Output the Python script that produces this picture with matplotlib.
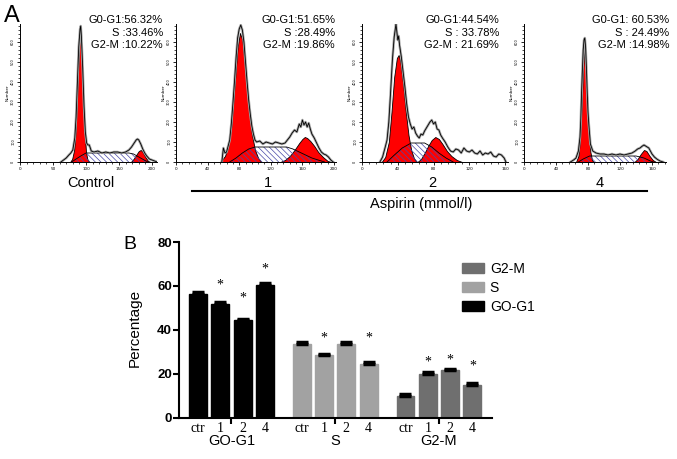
import matplotlib
matplotlib.use("Agg")
import matplotlib.pyplot as plt
import numpy as np
from matplotlib.ticker import MultipleLocator

# ---------------- Panel A data (flow cytometry histograms) -------------
panel_labels = ["Control", "1", "2", "4"]
x_max = [208, 202, 163, 178]
x_major = [50, 40, 40, 40]

p1_raw_x = [62, 66, 70, 74, 77, 80, 83, 85, 87, 89, 91, 92, 93, 95, 97, 99, 101, 103, 105, 108, 112, 118,
            124, 130, 136, 142, 148, 154, 160, 165, 169, 173, 176, 178, 180, 183, 186, 189, 192, 196, 200, 204, 208]
p1_raw_y = [0, 2, 4, 7, 9, 12, 24, 45, 80, 115, 133, 136, 126, 94, 56, 30, 19, 17, 17, 11, 10, 11,
            9, 10, 9, 10, 10, 9, 10, 12, 15, 19, 22, 23, 22, 18, 13, 9, 6, 3, 2, 1, 0]
p1_g1_x = [76, 79, 82, 84, 86, 88, 90, 91, 92, 94, 96, 98, 100, 102, 105]
p1_g1_y = [0, 3, 12, 28, 55, 90, 120, 127, 124, 100, 62, 30, 10, 3, 0]
p1_s_x = [78, 85, 92, 100, 110, 165, 172, 180, 188, 194]
p1_s_y = [0, 3, 6, 9, 9, 9, 8, 5, 2, 0]
p1_g2_x = [168, 172, 176, 180, 183, 186, 190, 194, 198]
p1_g2_y = [0, 3, 7, 11, 12, 10, 5, 1, 0]

p2_raw_x = [58, 60, 62, 64, 66, 68, 70, 72, 74, 76, 78, 80, 82, 84, 86, 88, 90, 92, 94, 96, 98, 100, 102,
            106, 110, 114, 118, 122, 126, 130, 134, 138, 141, 144, 147, 150, 153, 156, 158, 160, 162, 164,
            166, 168, 170, 172, 175, 178, 181, 184, 187, 190, 193, 196, 199]
p2_raw_y = [0, 14, 9, 10, 16, 22, 38, 58, 80, 104, 124, 133, 137, 132, 120, 100, 80, 62, 48, 36, 28, 22, 20,
            21, 18, 20, 19, 18, 20, 19, 18, 19, 22, 25, 29, 32, 30, 38, 35, 42, 37, 40,
            35, 39, 33, 28, 24, 19, 14, 10, 8, 7, 5, 2, 0]
p2_g1_x = [56, 58, 62, 66, 70, 74, 78, 81, 84, 88, 92, 96, 100, 104, 108]
p2_g1_y = [0, 2, 6, 15, 35, 75, 115, 129, 122, 90, 55, 28, 12, 4, 0]
p2_s_x = [68, 76, 84, 92, 100, 140, 148, 156, 164, 172, 180, 188]
p2_s_y = [0, 4, 9, 13, 15, 15, 13, 10, 7, 4, 2, 0]
p2_g2_x = [132, 138, 144, 150, 156, 160, 163, 166, 170, 175, 180, 186, 192, 197]
p2_g2_y = [0, 2, 6, 12, 19, 23, 25, 24, 21, 16, 10, 5, 1, 0]

p3_raw_x = [20, 23, 26, 28, 30, 32, 34, 36, 38, 39, 40, 41, 42, 44, 46, 48, 50, 52, 54, 56, 58, 60, 62,
            64, 66, 68, 70, 72, 74, 76, 78, 80, 82, 84, 86, 88, 90, 93, 96, 99, 102, 105, 108, 111, 114,
            117, 120, 123, 126, 129, 132, 135, 138, 141, 144, 147, 150, 153, 156, 159, 161]
p3_raw_y = [0, 5, 15, 22, 40, 70, 102, 125, 138, 130, 122, 126, 117, 105, 90, 75, 58, 45, 38, 33, 35, 29, 26,
            24, 28, 27, 31, 34, 37, 40, 42, 38, 40, 33, 32, 27, 24, 20, 15, 11, 10, 13, 12, 9, 14,
            11, 10, 12, 9, 8, 11, 7, 9, 8, 10, 6, 5, 8, 7, 4, 0]
p3_g1_x = [22, 26, 30, 33, 36, 39, 41, 43, 46, 49, 52, 55, 58, 61]
p3_g1_y = [0, 5, 20, 50, 85, 104, 107, 100, 78, 50, 27, 12, 4, 0]
p3_s_x = [28, 35, 45, 55, 70, 78, 86, 94, 102]
p3_s_y = [0, 6, 14, 19, 19, 15, 9, 4, 0]
p3_g2_x = [62, 66, 70, 74, 78, 82, 86, 90, 95, 100, 106, 112]
p3_g2_y = [0, 3, 9, 16, 22, 25, 23, 18, 11, 6, 2, 0]

p4_raw_x = [58, 62, 65, 68, 70, 71, 72, 73, 74, 75, 76, 77, 78, 79, 80, 81, 83, 86, 90, 95, 100, 105, 110,
            115, 120, 125, 130, 135, 139, 142, 145, 148, 150, 152, 154, 156, 158, 160, 163, 166, 170, 174]
p4_raw_y = [0, 2, 4, 11, 25, 43, 70, 92, 112, 122, 124, 115, 95, 70, 50, 38, 18, 11, 9, 8, 8, 7, 8,
            7, 8, 7, 8, 9, 11, 13, 14, 16, 17, 16, 15, 14, 11, 8, 5, 3, 1, 0]
p4_g1_x = [65, 68, 70, 72, 74, 75.5, 77, 79, 81, 83, 85, 87]
p4_g1_y = [0, 6, 22, 55, 95, 112, 100, 65, 30, 10, 2, 0]
p4_s_x = [68, 74, 82, 140, 150, 158, 162]
p4_s_y = [0, 3, 6, 6, 4, 1, 0]
p4_g2_x = [138, 142, 146, 150, 153, 157, 161, 165]
p4_g2_y = [0, 3, 8, 12, 11, 6, 2, 0]

g1_text = ["G0-G1:56.32%", "G0-G1:51.65%", "G0-G1:44.54%", "G0-G1: 60.53%"]
s_text = ["S :33.46%", "S :28.49%", "S : 33.78%", "S : 24.49%"]
g2_text = ["G2-M :10.22%", "G2-M :19.86%", "G2-M : 21.69%", "G2-M :14.98%"]

# ---------------- Panel B data ----------------
phases = ["GO-G1", "S", "G2-M"]
doses = ["ctr", "1", "2", "4"]
g0g1_vals = [56.32, 51.65, 44.54, 60.53]
s_vals = [33.46, 28.49, 33.78, 24.49]
g2m_vals = [10.22, 19.86, 21.69, 14.98]
g0g1_err = [1.0, 1.3, 0.6, 1.0]
s_err = [0.9, 0.8, 0.8, 1.0]
g2m_err = [0.5, 1.0, 0.6, 0.9]
g0g1_star = [None, 60.5, 54.5, 67.7]
s_star = [None, 36.4, None, 36.4]
g2m_star = [None, 25.5, 26.4, 23.6]

W, H = 677, 459
fig = plt.figure(figsize=(W / 100, H / 100), dpi=100)
SANS = ["Liberation Sans", "DejaVu Sans"]
SERIF = ["Liberation Serif", "DejaVu Serif"]


def ax_px(x0, y_top, x1, y_bot):
    return fig.add_axes([x0 / W, 1 - y_bot / H, (x1 - x0) / W, (y_bot - y_top) / H])


hist_data = [
    (p1_raw_x, p1_raw_y, p1_g1_x, p1_g1_y, p1_s_x, p1_s_y, p1_g2_x, p1_g2_y),
    (p2_raw_x, p2_raw_y, p2_g1_x, p2_g1_y, p2_s_x, p2_s_y, p2_g2_x, p2_g2_y),
    (p3_raw_x, p3_raw_y, p3_g1_x, p3_g1_y, p3_s_x, p3_s_y, p3_g2_x, p3_g2_y),
    (p4_raw_x, p4_raw_y, p4_g1_x, p4_g1_y, p4_s_x, p4_s_y, p4_g2_x, p4_g2_y),
]
px_per_ch = [0.66, 0.79, 0.894, 0.80]
x_left = [20, 176, 362, 524]
text_right = [163, 335, 499, 669]
label_x = [91, 268, 432, 600]

plt.rcParams['hatch.linewidth'] = 0.5
for i in range(4):
    rx, ry, g1x, g1y, sx, sy, g2x, g2y = hist_data[i]
    x0 = x_left[i]
    x1 = x0 + x_max[i] * px_per_ch[i]
    ax = ax_px(x0, 24, x1, 162)
    ax.set_xlim(0, x_max[i])
    ax.set_ylim(0, 138)
    ax.patch.set_alpha(0)
    ax.fill_between(g1x, 0, g1y, facecolor="#ff0000", edgecolor="black", linewidth=0.6, zorder=2)
    ax.fill_between(g2x, 0, g2y, facecolor="#ff0000", edgecolor="black", linewidth=0.6, zorder=2)
    ax.fill_between(sx, 0, sy, facecolor="none", edgecolor="#4a4aa8", hatch="\\\\\\\\\\\\",
                    linewidth=0, zorder=3)
    ax.plot(sx, sy, color="black", lw=0.6, zorder=4)
    ax.plot(rx, ry, color="#a8a8a8", lw=1.8, zorder=5)
    ax.plot(rx, ry, color="black", lw=0.6, zorder=6)
    for sp in ["top", "right"]:
        ax.spines[sp].set_visible(False)
    for sp in ["left", "bottom"]:
        ax.spines[sp].set_linewidth(0.7)
    ax.xaxis.set_major_locator(MultipleLocator(x_major[i]))
    ax.xaxis.set_minor_locator(MultipleLocator(x_major[i] / 5))
    ax.yaxis.set_minor_locator(MultipleLocator(4))
    ax.tick_params(axis="both", which="major", length=2.5, width=0.6, labelsize=3, pad=1)
    ax.tick_params(axis="both", which="minor", length=1.5, width=0.5)
    ax.set_yticks(range(0, 138, 20))
    ax.set_yticklabels([str(v * 5) for v in range(0, 138, 20)], rotation=90, va="center", fontsize=2.5)
    ax.set_ylabel("Number", fontsize=3, labelpad=1)
    for j, t in enumerate([g1_text[i], s_text[i], g2_text[i]]):
        fig.text(text_right[i] / W, 1 - (20 + 12.5 * j) / H, t, ha="right", va="center",
                 fontsize=8, family=SANS)
    fig.text(label_x[i] / W, 1 - 183 / H, panel_labels[i], ha="center", va="center",
             fontsize=10.5, family=SANS)

fig.add_artist(plt.Line2D([192 / W, 647 / W], [1 - 191 / H, 1 - 191 / H], color="black", lw=1.5))
fig.text(421 / W, 1 - 204 / H, "Aspirin (mmol/l)", ha="center", va="center", fontsize=10.5, family=SANS)
fig.text(12 / W, 1 - 16 / H, "A", ha="center", va="center", fontsize=17, family=SANS)
fig.text(130 / W, 1 - 244 / H, "B", ha="center", va="center", fontsize=14, family=SANS)

# ---------------- Panel B bar chart ----------------
axb = ax_px(179, 242, 492, 418)
group_vals = [g0g1_vals, s_vals, g2m_vals]
group_err = [g0g1_err, s_err, g2m_err]
group_star = [g0g1_star, s_star, g2m_star]
colors = ["black", "#a2a2a2", "#6f6f6f"]
gap = 4.65
handles = {}
minor_pos, minor_lab = [], []
for g in range(3):
    pos = np.arange(4) + g * gap
    b = axb.bar(pos, group_vals[g], width=0.8, color=colors[g], edgecolor=colors[g], zorder=2)
    handles[phases[g]] = b
    axb.errorbar(pos, group_vals[g], yerr=[np.zeros(4), group_err[g]], fmt="none", ecolor="black",
                 elinewidth=1.5, capsize=4, capthick=2.5, zorder=3)
    for k in range(4):
        if group_star[g][k] is not None:
            axb.text(pos[k], group_star[g][k], "*", ha="center", va="center", fontsize=10,
                     family=SERIF)
    minor_pos += list(pos)
    minor_lab += doses
    axb.text(pos.mean(), -0.13, phases[g], transform=axb.get_xaxis_transform(), ha="center",
             va="center", fontsize=10.5, family=SANS)
axb.set_xlim(-0.85, 13.18)
axb.set_ylim(0, 80)
axb.set_xticks([1.5, 1.5 + gap, 1.5 + 2 * gap])
axb.set_xticklabels([])
axb.set_xticks(minor_pos, minor=True)
axb.set_xticklabels(minor_lab, minor=True, fontsize=10, family=SERIF)
axb.tick_params(axis="x", which="major", length=4, width=1.5)
axb.tick_params(axis="x", which="minor", length=0, pad=3)
axb.set_yticks([0, 20, 40, 60, 80])
axb.set_yticklabels(["0", "20", "40", "60", "80"], fontsize=9.5, fontweight="bold", family=SANS)
axb.tick_params(axis="y", length=4, width=1.5, pad=1)
for sp in ["top", "right"]:
    axb.spines[sp].set_visible(False)
for sp in ["left", "bottom"]:
    axb.spines[sp].set_linewidth(1.5)
fig.text(135 / W, 1 - 328 / H, "Percentage", rotation=90, ha="center", va="center", fontsize=11,
         family=SANS)
leg = axb.legend([handles["G2-M"], handles["S"], handles["GO-G1"]], ["G2-M", "S", "GO-G1"],
                 loc="upper left", bbox_to_anchor=(462 / W, 1 - 262 / H), bbox_transform=fig.transFigure,
                 frameon=False, prop={"family": SANS, "size": 10}, handlelength=1.6,
                 handleheight=0.7, handletextpad=0.4, labelspacing=0.35, borderpad=0, borderaxespad=0)

fig.savefig("out.png", dpi=100)
